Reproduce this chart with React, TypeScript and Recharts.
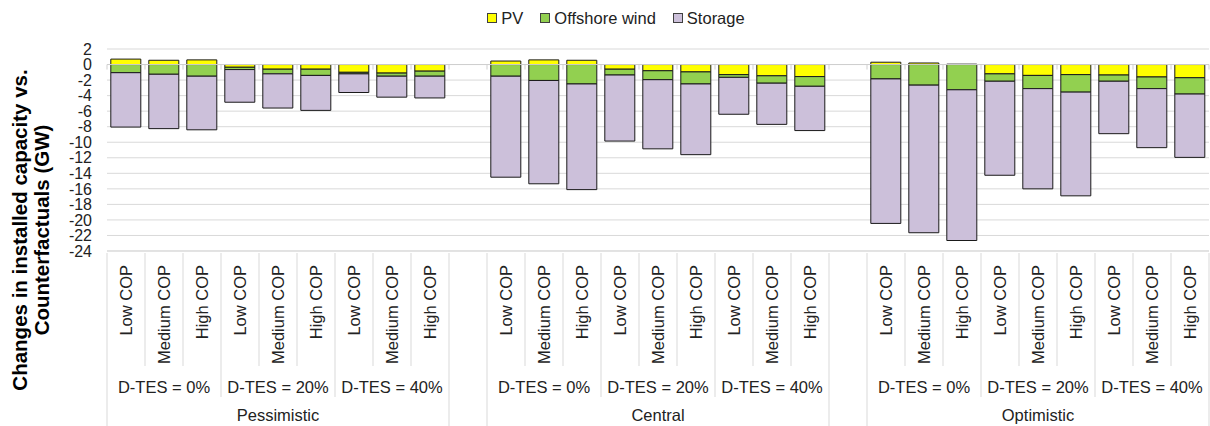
import React from 'react';
import { BarChart, Bar, XAxis, YAxis, CartesianGrid, Legend, ReferenceLine } from 'recharts';

const scenarios = ['Pessimistic', 'Central', 'Optimistic'];
const dtesLevels = ['D-TES = 0%', 'D-TES = 20%', 'D-TES = 40%'];
const copLevels = ['Low COP', 'Medium COP', 'High COP'];

// one row per scenario, 9 values: (D-TES 0/20/40) x (Low/Medium/High COP)
const pv = [
  [0.7, 0.55, 0.6, -0.35, -0.6, -0.6, -1.0, -1.1, -0.85],
  [0.45, 0.6, 0.55, -0.6, -0.8, -0.95, -1.3, -1.45, -1.55],
  [0.3, 0.2, 0.05, -1.2, -1.4, -1.3, -1.35, -1.6, -1.7],
];
const offshoreWind = [
  [-1.05, -1.25, -1.5, -0.3, -0.6, -0.8, -0.2, -0.4, -0.65],
  [-1.5, -2.05, -2.5, -0.75, -1.15, -1.55, -0.35, -0.95, -1.25],
  [-1.85, -2.65, -3.25, -0.95, -1.7, -2.25, -0.8, -1.5, -2.1],
];
const storage = [
  [-7.0, -7.0, -6.9, -4.2, -4.4, -4.5, -2.4, -2.7, -2.8],
  [-13.0, -13.3, -13.6, -8.5, -8.9, -9.1, -4.75, -5.3, -5.7],
  [-18.6, -19.0, -19.4, -12.1, -12.9, -13.35, -6.75, -7.6, -8.15],
];
const yTicks = [2, 0, -2, -4, -6, -8, -10, -12, -14, -16, -18, -20, -22, -24];

const FONT = '"Liberation Sans", Arial, sans-serif';
const TEXT = '#222222';
const GRID = '#d9d9d9';
const COLORS = { pv: '#FFFF00', wind: '#92D050', storage: '#CCC0DA' };

const CHART_W = 1210;
const CHART_H = 426;
const Y_AXIS_W = 107;
const X_AXIS_H = 175;
const PLOT_W = CHART_W - Y_AXIS_W - 1;

type Row = {
  id: string;
  gap: boolean;
  k: number;
  scenario: string;
  dtes: string;
  cop: string;
  pv: number | null;
  wind: number | null;
  storage: number | null;
};

const data: Row[] = [];
scenarios.forEach((sc, s) => {
  for (let k = 0; k < 9; k++) {
    data.push({
      id: `${s}-${k}`,
      gap: false,
      k,
      scenario: sc,
      dtes: dtesLevels[Math.floor(k / 3)],
      cop: copLevels[k % 3],
      pv: pv[s][k],
      wind: offshoreWind[s][k],
      storage: storage[s][k],
    });
  }
  if (s < scenarios.length - 1) {
    data.push({ id: `gap-${s}`, gap: true, k: -1, scenario: '', dtes: '', cop: '', pv: null, wind: null, storage: null });
  }
});

const CategoryTick = (props: any) => {
  const { x, y, payload } = props;
  const i = payload?.index ?? props.index ?? 0;
  const row = data[i];
  if (!row) return null;
  const bw = PLOT_W / data.length;
  const left = x - bw / 2;
  let lineH = 113;
  if (row.gap || row.k === 0) lineH = X_AXIS_H;
  else if (row.k === 3 || row.k === 6) lineH = 144;
  const isLast = i === data.length - 1;
  return (
    <g>
      <line x1={left} y1={y} x2={left} y2={y + lineH} stroke={GRID} />
      {isLast && <line x1={left + bw} y1={y} x2={left + bw} y2={y + X_AXIS_H} stroke={GRID} />}
      {!row.gap && (
        <text
          x={x}
          y={y + 12}
          transform={`rotate(-90 ${x} ${y + 12})`}
          textAnchor="end"
          dominantBaseline="central"
          fontSize={16.5}
          fontFamily={FONT}
          fill={TEXT}
        >
          {row.cop}
        </text>
      )}
      {!row.gap && row.k % 3 === 1 && (
        <text x={x} y={y + 134} textAnchor="middle" dominantBaseline="central" fontSize={16.5} fontFamily={FONT} fill={TEXT}>
          {row.dtes}
        </text>
      )}
      {!row.gap && row.k === 4 && (
        <text x={x} y={y + 162} textAnchor="middle" dominantBaseline="central" fontSize={16.5} fontFamily={FONT} fill={TEXT}>
          {row.scenario}
        </text>
      )}
    </g>
  );
};

const ZeroLine = (props: any) => {
  const { x1, y1, x2 } = props;
  if (x1 == null || y1 == null) return null;
  const bw = (x2 - x1) / data.length;
  return (
    <g>
      <line x1={x1} y1={y1} x2={x2} y2={y1} stroke="#cfcfcf" />
      {Array.from({ length: data.length + 1 }, (_, j) => (
        <line key={j} x1={x1 + j * bw} y1={y1} x2={x1 + j * bw} y2={y1 + 5} stroke="#cfcfcf" />
      ))}
    </g>
  );
};

const legendItems = [
  { name: 'PV', color: COLORS.pv },
  { name: 'Offshore wind', color: COLORS.wind },
  { name: 'Storage', color: COLORS.storage },
];

const LegendContent = () => (
  <div
    style={{
      width: CHART_W,
      height: 30,
      display: 'flex',
      justifyContent: 'center',
      alignItems: 'center',
      paddingLeft: 22,
      boxSizing: 'border-box',
      fontFamily: FONT,
      fontSize: 16.5,
      color: TEXT,
    }}
  >
    {legendItems.map((it, n) => (
      <span key={it.name} style={{ display: 'flex', alignItems: 'center', marginLeft: n === 0 ? 0 : 17 }}>
        <span style={{ width: 8, height: 8, border: '1px solid #404040', background: it.color, marginRight: 4 }} />
        {it.name}
      </span>
    ))}
  </div>
);

const AxisTitle = () => (
  <g fontFamily={FONT} fontWeight="bold" fontSize={20.5} fill="#000">
    <text x={19} y={230} transform="rotate(-90 19 230)" textAnchor="middle" dominantBaseline="central">
      Changes in installed capacity vs.
    </text>
    <text x={41} y={230} transform="rotate(-90 41 230)" textAnchor="middle" dominantBaseline="central">
      Counterfactuals (GW)
    </text>
  </g>
);

export default function App() {
  return (
    <div style={{ position: 'absolute', left: 0, top: 0, background: '#fff' }}>
      <BarChart
        width={CHART_W}
        height={CHART_H}
        data={data}
        stackOffset="sign"
        barCategoryGap="10%"
        margin={{ top: 19, right: 1, left: 0, bottom: 0 }}
      >
        <CartesianGrid vertical={false} stroke={GRID} />
        <Legend verticalAlign="top" content={<LegendContent />} wrapperStyle={{ top: 3, left: 0, width: CHART_W }} />
        <XAxis
          dataKey="id"
          interval={0}
          tickSize={0}
          tickLine={false}
          axisLine={{ stroke: GRID }}
          height={X_AXIS_H}
          tick={<CategoryTick />}
        />
        <YAxis
          width={Y_AXIS_W}
          domain={[-24, 2]}
          ticks={yTicks}
          interval={0}
          axisLine={false}
          tickLine={false}
          tickMargin={9}
          tick={{ fontSize: 16, fontFamily: FONT, fill: TEXT }}
          label={{ content: () => <AxisTitle /> }}
        />
        <ReferenceLine y={0} shape={<ZeroLine />} />
        <Bar dataKey="pv" name="PV" stackId="a" fill={COLORS.pv} stroke="#1a1a1a" strokeWidth={1} isAnimationActive={false} />
        <Bar dataKey="wind" name="Offshore wind" stackId="a" fill={COLORS.wind} stroke="#1a1a1a" strokeWidth={1} isAnimationActive={false} />
        <Bar dataKey="storage" name="Storage" stackId="a" fill={COLORS.storage} stroke="#1a1a1a" strokeWidth={1} isAnimationActive={false} />
      </BarChart>
    </div>
  );
}
